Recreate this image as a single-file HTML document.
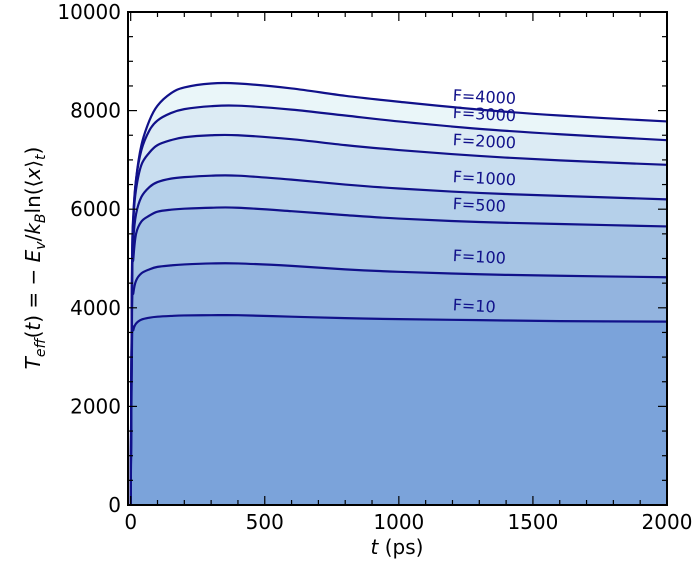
<!DOCTYPE html>
<html><head><meta charset="utf-8"><style>
body{margin:0;background:#fff;}
svg{display:block;font-family:"DejaVu Sans","Liberation Sans",sans-serif;}
</style></head><body>
<svg id="chart" width="700" height="566" viewBox="0 0 700 566" xmlns="http://www.w3.org/2000/svg"></svg>
<script>
const times = [0,5,10,20,40,70,100,150,200,300,400,600,800,1000,1300,1600,2000];
const seriesNames = ["F=4000","F=3000","F=2000","F=1000","F=500","F=100","F=10"];
const s4000 = [0,4500,5800,6600,7300,7800,8100,8350,8470,8550,8550,8450,8300,8180,8020,7900,7780];
const s3000 = [0,4800,5900,6600,7200,7600,7800,7950,8030,8090,8100,8020,7900,7780,7630,7520,7400];
const s2000 = [0,4800,5800,6400,6900,7150,7300,7400,7460,7500,7500,7420,7300,7200,7080,6990,6900];
const s1000 = [0,4600,5400,5900,6250,6450,6550,6620,6650,6680,6680,6600,6500,6420,6330,6270,6200];
const s500 = [0,4400,5000,5500,5750,5870,5950,5990,6010,6030,6030,5960,5880,5810,5740,5700,5650];
const s100 = [0,3900,4300,4550,4700,4780,4830,4860,4880,4900,4900,4850,4780,4730,4680,4650,4620];
const s10 = [0,3300,3550,3680,3760,3800,3820,3835,3845,3850,3850,3820,3790,3770,3750,3730,3720];
const labelT = [1200,1200,1200,1200,1200,1200,1200];
const labelV = [8200,7850,7300,6550,6000,4950,3950];
const xTicks = [0,500,1000,1500,2000];
const yTicks = [0,2000,4000,6000,8000,10000];

const series=[s4000,s3000,s2000,s1000,s500,s100,s10];
const fills=["#eaf6f9","#dcebf4","#c9def0","#b5d0ea","#a6c4e4","#93b4df","#7ba3da"];
const L=128,R=667,T=12,B=505;
const xs=t=>L+(t-(-10))/(2010)*(R-L);
const ys=v=>B-v/10000*(B-T);
const svg=document.getElementById('chart');
const NS="http://www.w3.org/2000/svg";
function mk(tag,attrs,parent){const e=document.createElementNS(NS,tag);for(const k in attrs)e.setAttribute(k,attrs[k]);(parent||svg).appendChild(e);return e;}
series.forEach((s,i)=>{
  let d=`M${xs(times[0])},${ys(0)}`;
  s.forEach((v,j)=>{d+=` L${xs(times[j])},${ys(v)}`});
  d+=` L${xs(times[times.length-1])},${ys(0)} Z`;
  const a=mk('path',{d:d,fill:fills[i],stroke:'none'});
  
  
});
function smooth(s){
  const p=s.map((v,j)=>[xs(times[j]),ys(v)]);
  let d=`M${p[0][0]},${p[0][1]}`;
  for(let j=0;j<p.length-1;j++){
    const p0=p[Math.max(j-1,0)],p1=p[j],p2=p[j+1],p3=p[Math.min(j+2,p.length-1)];
    const c1=[p1[0]+(p2[0]-p0[0])/6,p1[1]+(p2[1]-p0[1])/6];
    const c2=[p2[0]-(p3[0]-p1[0])/6,p2[1]-(p3[1]-p1[1])/6];
    d+=` C${c1[0]},${c1[1]} ${c2[0]},${c2[1]} ${p2[0]},${p2[1]}`;
  }
  return d;
}
series.forEach((s,i)=>{
  const l=mk('path',{d:smooth(s),fill:'none',stroke:'#11118a','stroke-width':2.2});
  
  
  const x=xs(labelT[i]),y=ys(labelV[i]);
  const t=mk('text',{x:x,y:y,fill:'#11118a','font-size':16,transform:`rotate(3 ${x} ${y})`});
  t.textContent=seriesNames[i];
  
  
});
// ticks
for(let t=0;t<=2000;t+=100){
  const maj=t%500===0,len=maj?9:5,x=xs(t);
  mk('line',{x1:x,x2:x,y1:B,y2:B-len,stroke:'#000','stroke-width':1.2});
  mk('line',{x1:x,x2:x,y1:T,y2:T+len,stroke:'#000','stroke-width':1.2});
}
for(let v=0;v<=10000;v+=500){
  const maj=v%2000===0,len=maj?9:5,y=ys(v);
  mk('line',{x1:L,x2:L+len,y1:y,y2:y,stroke:'#000','stroke-width':1.2});
  mk('line',{x1:R,x2:R-len,y1:y,y2:y,stroke:'#000','stroke-width':1.2});
}
const frame=mk('rect',{x:L,y:T,width:R-L,height:B-T,fill:'none',stroke:'#000','stroke-width':2});

xTicks.forEach(t=>{const e=mk('text',{x:xs(t),y:B+24,'text-anchor':'middle','font-size':20});e.textContent=t;
 });
yTicks.forEach(v=>{const e=mk('text',{x:L-7,y:ys(v)+7,'text-anchor':'end','font-size':20});e.textContent=v;
 });
const xl=mk('text',{x:397,y:554,'text-anchor':'middle','font-size':20});
xl.innerHTML='<tspan font-style="italic">t</tspan> (ps)';

const yl=mk('text',{x:0,y:0,'text-anchor':'middle','font-size':20,transform:'translate(40 258) rotate(-90)'});
yl.innerHTML='<tspan font-style="italic">T</tspan><tspan font-style="italic" font-size="14" dy="5">eff</tspan><tspan dy="-5">(</tspan><tspan font-style="italic">t</tspan>) = − <tspan font-style="italic">E</tspan><tspan font-style="italic" font-size="14" dy="5">v</tspan><tspan dy="-5">/</tspan><tspan font-style="italic">k</tspan><tspan font-style="italic" font-size="14" dy="5">B</tspan><tspan dy="-5">ln(⟨</tspan><tspan font-style="italic">x</tspan>⟩<tspan font-style="italic" font-size="14" dy="5">t</tspan><tspan dy="-5">)</tspan>';

</script>
</body></html>
